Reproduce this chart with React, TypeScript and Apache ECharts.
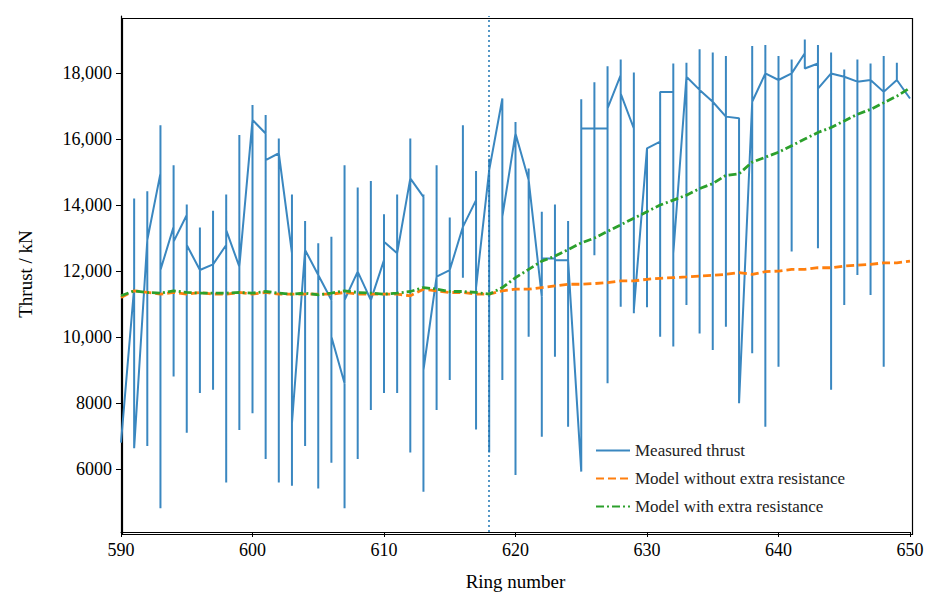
import React, { useEffect, useRef } from 'react';
import * as echarts from 'echarts';

// measured thrust per ring: entry value, top, bottom, exit value (kN)
const rings = [590,591,592,593,594,595,596,597,598,599,600,601,602,603,604,605,606,607,608,609,610,611,612,613,614,615,616,617,618,619,620,621,622,623,624,625,626,627,628,629,630,631,632,633,634,635,636,637,638,639,640,641,642,643,644,645,646,647,648,649,650];
const entryV = [6800,11500,12940,14960,13340,13700,12030,12200,12790,12130,16580,16170,15570,12540,12640,11880,11120,8600,11980,11120,12330,12540,14810,14250,11830,12030,13340,14150,15060,17230,16170,14760,11220,12380,12330,5920,16320,16320,17940,16320,15720,15920,17430,17890,17490,17130,16680,16630,17130,17990,17790,17990,18600,18290,17990,17890,17740,17790,17430,17790,17230];
const hiV = [6800,14200,14420,16420,15210,14020,13320,13830,14320,16120,17030,16730,16020,14320,13520,12840,13040,15210,14530,14730,13720,14320,16020,14320,15210,13620,16420,15030,15400,17230,16520,15110,13800,14020,13520,17210,17720,18210,18410,18020,15720,17430,18290,18310,18720,18620,18520,16630,18820,18850,18520,18410,19020,18850,18620,18110,18410,18290,18520,18310,17230];
const loV = [6800,6630,6700,4810,8800,7100,8300,8400,5590,7180,7690,6300,5590,5490,6700,5410,6190,4810,6300,7790,8300,8300,6500,5310,7790,8700,11800,7200,6500,8700,5820,10010,6980,9400,7280,5920,12480,8600,10920,10720,10900,10010,9710,10970,10110,9610,10310,7990,9510,7280,9100,12590,18140,12690,8400,10970,11880,11270,9100,17790,17230];
const exitV = [6800,6630,12940,12030,12890,12790,12030,12200,13240,12130,16580,15360,15570,7385,12640,11880,10010,11120,11980,11120,12890,12540,14810,9000,11830,12030,13340,11500,15060,13650,16170,14760,12380,12330,12330,16320,16320,16930,17380,10820,15720,17430,12530,17890,17490,17130,16680,7990,17130,17990,17790,17990,18140,17530,17990,17890,17740,17790,17430,17790,17230];

const modelNoExtra = [11200,11400,11350,11300,11350,11300,11350,11300,11300,11350,11300,11350,11300,11300,11300,11300,11300,11350,11300,11300,11300,11300,11250,11450,11400,11350,11350,11300,11300,11400,11450,11450,11500,11550,11600,11600,11620,11650,11700,11700,11750,11780,11800,11820,11850,11870,11900,11950,11900,11980,12000,12050,12050,12100,12100,12150,12180,12200,12250,12250,12300];
const modelExtra = [11250,11400,11350,11330,11400,11350,11330,11330,11330,11350,11330,11380,11330,11300,11330,11280,11330,11400,11350,11330,11300,11330,11380,11500,11450,11380,11380,11350,11300,11500,11800,12050,12300,12450,12650,12850,13000,13200,13400,13600,13800,14000,14150,14300,14500,14650,14900,14950,15300,15450,15600,15800,16000,16200,16350,16550,16750,16900,17100,17300,17550];

const yTicks = [6000, 8000, 10000, 12000, 14000, 16000, 18000];
const markerRing = 618;

const font = '"Liberation Serif", "DejaVu Serif", serif';

export default function App() {
  const chartRef = useRef<HTMLDivElement>(null);

  useEffect(() => {
    if (!chartRef.current) return;
    const chart = echarts.init(chartRef.current, undefined, { renderer: 'svg' });

    const measured: number[][] = [];
    rings.forEach((r, i) => {
      measured.push([r, entryV[i]], [r, hiV[i]], [r, loV[i]], [r, exitV[i]]);
    });

    const fmt = (v: number) => (v >= 10000 ? v.toLocaleString('en-US') : String(v));

    chart.setOption({
      animation: false,
      grid: { left: 112, right: 23, top: 8, bottom: 70 },
      xAxis: {
        type: 'value',
        min: 590,
        max: 650,
        interval: 10,
        name: 'Ring number',
        nameLocation: 'middle',
        nameGap: 40,
        nameTextStyle: { fontFamily: font, fontSize: 19, color: '#000' },
        axisLine: { show: true, onZero: false, lineStyle: { color: '#000', width: 1.2 } },
        axisTick: { show: true, inside: false, length: 5, lineStyle: { color: '#000' } },
        axisLabel: { fontFamily: font, fontSize: 18, color: '#000', margin: 9 },
        splitLine: { show: false },
      },
      yAxis: {
        type: 'value',
        min: 4090,
        max: 19730,
        name: 'Thrust / kN',
        nameLocation: 'middle',
        nameGap: 86,
        nameTextStyle: { fontFamily: font, fontSize: 19, color: '#000' },
        axisLine: { show: true, lineStyle: { color: '#000', width: 1.2 } },
        axisTick: { show: true, length: 5, customValues: yTicks, lineStyle: { color: '#000' } },
        axisLabel: { fontFamily: font, fontSize: 18, color: '#000', margin: 9, customValues: yTicks, formatter: fmt },
        splitLine: { show: false },
      },
      legend: {
        orient: 'vertical',
        left: 582,
        top: 429,
        itemWidth: 34,
        itemHeight: 12,
        itemGap: 11,
        itemStyle: { color: 'transparent', borderWidth: 0 },
        textStyle: { fontFamily: font, fontSize: 17, color: '#222' },
        data: ['Measured thrust', 'Model without extra resistance', 'Model with extra resistance'],
      },
      series: [
        {
          name: 'Measured thrust',
          type: 'line',
          data: measured,
          symbol: 'none',
          color: '#3a87c0',
          lineStyle: { width: 2, color: '#3a87c0' },
          markLine: {
            silent: true,
            symbol: 'none',
            label: { show: false },
            lineStyle: { type: [2, 3], color: '#1f77b4', width: 1.5 },
            data: [{ xAxis: markerRing }],
          },
        },
        {
          name: 'Model without extra resistance',
          type: 'line',
          data: rings.map((r, i) => [r, modelNoExtra[i]]),
          symbol: 'none',
          color: '#ff7f0e',
          lineStyle: { width: 2.8, type: [8, 4], color: '#ff7f0e' },
        },
        {
          name: 'Model with extra resistance',
          type: 'line',
          data: rings.map((r, i) => [r, modelExtra[i]]),
          symbol: 'none',
          color: '#2ca02c',
          lineStyle: { width: 2.8, type: [8, 3, 2, 3], color: '#2ca02c' },
        },
      ],
      graphic: [
        {
          type: 'rect',
          left: 112,
          top: 8,
          shape: { width: 790, height: 516 },
          style: { fill: 'none', stroke: '#000', lineWidth: 1.2 },
          silent: true,
        },
      ],
    });

    return () => chart.dispose();
  }, []);

  return <div ref={chartRef} style={{ width: 925, height: 594 }} />;
}
